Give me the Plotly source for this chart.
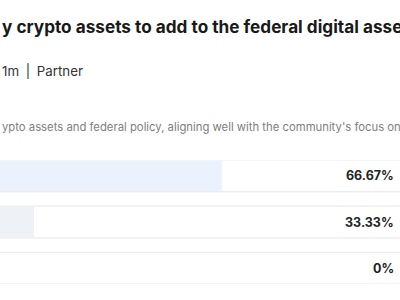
import plotly.graph_objects as go

# Data
options = ["Option A", "Option B", "Option C"]
shares = [66.67, 33.33, 0]
share_labels = ["66.67%", "33.33%", "0%"]
fill_colors = ["#EAF2FD", "#EEF1F6", "#EEF1F6"]
title_text = "y crypto assets to add to the federal digital assets"
meta_text = "1m\u2002|\u2002Partner"
desc_text = "ypto assets and federal policy, aligning well with the community's focus on"

ypos = list(range(len(options)))

fig = go.Figure()
# track (full 100%)
fig.add_trace(go.Bar(
    x=[100] * len(options), y=ypos, orientation="h", width=0.69,
    marker=dict(color="#FFFFFF", line=dict(color="#E4E6EA", width=1)),
    hoverinfo="skip", showlegend=False,
))
# share fill
fig.add_trace(go.Bar(
    x=shares, y=ypos, orientation="h", width=0.66,
    marker=dict(color=fill_colors, line=dict(width=0)),
    hovertext=options, showlegend=False,
))

for yi, lab in zip(ypos, share_labels):
    fig.add_annotation(x=0.99, xref="paper", y=yi, yref="y", text=lab,
                       showarrow=False, xanchor="right", yanchor="middle",
                       font=dict(family="Inter", size=12.5, color="#222222", weight="bold"))

H = 300
top_m, bot_m = 160, 16
plot_h = H - top_m - bot_m

def ypaper(px):
    return (H - bot_m - px) / plot_h

fig.add_annotation(x=0, xref="paper", y=ypaper(26), yref="paper", text=title_text,
                   showarrow=False, xanchor="left", yanchor="middle",
                   font=dict(family="Inter", size=17.2, color="#1A1A1A", weight="bold"))
fig.add_annotation(x=0, xref="paper", y=ypaper(71), yref="paper", text=meta_text,
                   showarrow=False, xanchor="left", yanchor="middle",
                   font=dict(family="Inter", size=13.3, color="#333333"))
fig.add_annotation(x=0, xref="paper", y=ypaper(127), yref="paper", text=desc_text,
                   showarrow=False, xanchor="left", yanchor="middle",
                   font=dict(family="Inter", size=11.3, color="#808080"))

fig.update_layout(
    width=400, height=300, barmode="overlay",
    margin=dict(l=0, r=0, t=top_m, b=bot_m),
    paper_bgcolor="white", plot_bgcolor="white",
    xaxis=dict(range=[27.3, 98.2], visible=False, fixedrange=True),
    yaxis=dict(range=[2.344, -0.344], visible=False, fixedrange=True),
)

fig.write_html("out.html")
